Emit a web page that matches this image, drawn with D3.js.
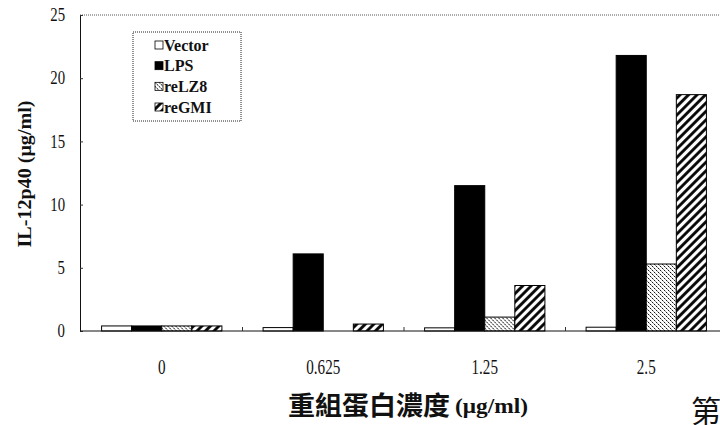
<!DOCTYPE html>
<html>
<head>
<meta charset="utf-8">
<script src="https://cdn.jsdelivr.net/npm/d3@7"></script>
<style>
  html, body { margin: 0; padding: 0; background: #fff; }
  svg { display: block; }
</style>
</head>
<body>
<svg id="chart" width="720" height="425"></svg>
<script>
// ---- data ----
const categories = ["0", "0.625", "1.25", "2.5"];
const seriesNames = ["Vector", "LPS", "reLZ8", "reGMI"];
const vectorValues = [0.4, 0.27, 0.25, 0.3];
const lpsValues = [0.4, 6.1, 11.5, 21.8];
const relz8Values = [0.4, 0, 1.1, 5.3];
const regmiValues = [0.4, 0.55, 3.6, 18.7];
const yTicks = [0, 5, 10, 15, 20, 25];
const yTitle = "IL-12p40 (μg/ml)";
const xTitleCJK = "重組蛋白濃度";
const xTitleUnit = "(μg/ml)";
const cornerText = "第";

const seriesValues = [vectorValues, lpsValues, relz8Values, regmiValues];

const svg = d3.select("#chart");
const defs = svg.append("defs");

// patterns
const dots = defs.append("pattern").attr("id", "pDots")
  .attr("patternUnits", "userSpaceOnUse").attr("width", 4).attr("height", 4);
dots.append("rect").attr("width", 4).attr("height", 4).attr("fill", "#fff");
dots.append("rect").attr("x", 0).attr("y", 0).attr("width", 1).attr("height", 1).attr("fill", "#000");
dots.append("rect").attr("x", 2).attr("y", 2).attr("width", 1).attr("height", 1).attr("fill", "#000");
dots.append("rect").attr("x", 1).attr("y", 1).attr("width", 1).attr("height", 1).attr("fill", "#888");
dots.append("rect").attr("x", 3).attr("y", 3).attr("width", 1).attr("height", 1).attr("fill", "#888");

const hatch = defs.append("pattern").attr("id", "pHatch")
  .attr("patternUnits", "userSpaceOnUse").attr("width", 6).attr("height", 6)
  .attr("patternTransform", "rotate(45)");
hatch.append("rect").attr("width", 6).attr("height", 6).attr("fill", "#fff");
hatch.append("line").attr("x1", 1.5).attr("y1", 0).attr("x2", 1.5).attr("y2", 6)
  .attr("stroke", "#000").attr("stroke-width", 2.8);

const fills = ["#fff", "#000", "url(#pDots)", "url(#pHatch)"];

// scales
const plotLeft = 80, plotTop = 15, plotBottom = 331;
const x0 = d3.scaleBand().domain(categories).range([81, 727])
  .paddingInner(0.255).paddingOuter(0.1275);
const x1 = d3.scaleBand().domain(seriesNames).range([0, x0.bandwidth()]).padding(0);
const y = d3.scaleLinear().domain([0, 25]).range([plotBottom, plotTop]);

const serifFont = "'Liberation Serif', 'DejaVu Serif', serif";
const cjkFont = "'Noto Sans CJK TC', 'Noto Sans CJK SC', sans-serif";

function condense(sel, f) {
  sel.each(function () {
    const w = this.getComputedTextLength();
    d3.select(this).attr("textLength", w * f).attr("lengthAdjust", "spacingAndGlyphs");
  });
}

// top border (dotted)
svg.append("line").attr("x1", plotLeft).attr("x2", 720)
  .attr("y1", plotTop).attr("y2", plotTop)
  .attr("stroke", "#555").attr("stroke-width", 1).attr("stroke-dasharray", "1,1");

// bars
const groups = svg.append("g").selectAll("g").data(categories).join("g")
  .attr("transform", d => `translate(${x0(d)},0)`);
groups.selectAll("rect")
  .data((c, ci) => seriesNames.map((s, si) => ({ s, si, v: seriesValues[si][ci] })))
  .join("rect")
  .filter(d => d.v > 0)
  .attr("x", d => x1(d.s))
  .attr("y", d => y(d.v))
  .attr("width", x1.bandwidth())
  .attr("height", d => y(0) - y(d.v))
  .attr("fill", d => fills[d.si])
  .attr("stroke", "#000")
  .attr("stroke-width", 1);

// y axis
const yAxis = svg.append("g").attr("transform", `translate(${plotLeft},0)`)
  .call(d3.axisLeft(y).tickValues(yTicks).tickSize(-3).tickSizeOuter(0).tickPadding(15));
yAxis.select(".domain").attr("stroke", "#111");
yAxis.selectAll(".tick line").attr("stroke", "#333");
yAxis.selectAll("text").attr("font-family", serifFont).attr("font-size", 18)
  .attr("fill", "#111");
condense(yAxis.selectAll("text"), 0.82);

// x axis
const xAxis = svg.append("g").attr("transform", `translate(0,${plotBottom})`)
  .call(d3.axisBottom(x0).tickSize(0).tickPadding(28));
xAxis.select(".domain").attr("d", `M${plotLeft},0H720`).attr("stroke", "#111");
xAxis.selectAll("text").attr("font-family", serifFont).attr("font-size", 21)
  .attr("fill", "#111");
condense(xAxis.selectAll("text"), 0.72);

// x tick marks at band boundaries
const boundaries = categories.slice(1).map(c => x0(c) - x0.step() * x0.paddingInner() / 2);
svg.append("g").selectAll("line").data(boundaries).join("line")
  .attr("x1", d => d).attr("x2", d => d)
  .attr("y1", plotBottom).attr("y2", plotBottom - 4)
  .attr("stroke", "#333");

// legend
const lg = svg.append("g");
lg.append("rect").attr("x", 133).attr("y", 32).attr("width", 108).attr("height", 89)
  .attr("fill", "#fff").attr("stroke", "#222").attr("stroke-dasharray", "1,1");
const rowY = d3.scalePoint().domain(seriesNames).range([45, 107]);
const items = lg.selectAll("g.item").data(seriesNames).join("g").attr("class", "item")
  .attr("transform", d => `translate(155,${rowY(d)})`);
items.append("rect").attr("x", 0).attr("y", -4).attr("width", 8).attr("height", 8)
  .attr("fill", (d, i) => fills[i]).attr("stroke", "#000").attr("stroke-width", 0.8);
items.append("text").attr("x", 9).attr("y", 5.5)
  .attr("font-family", serifFont).attr("font-weight", "bold").attr("font-size", 16)
  .attr("fill", "#111").text(d => d);

// y title
const yt = svg.append("text")
  .attr("transform", "translate(31,174) rotate(-90)")
  .attr("text-anchor", "middle")
  .attr("font-family", serifFont).attr("font-weight", "bold").attr("font-size", 19)
  .attr("fill", "#111").text(yTitle);
yt.attr("textLength", 147).attr("lengthAdjust", "spacingAndGlyphs");

// x title
svg.append("text").attr("x", 288).attr("y", 415)
  .attr("font-family", cjkFont).attr("font-weight", "bold").attr("font-size", 26)
  .attr("fill", "#111").attr("textLength", 162).attr("lengthAdjust", "spacingAndGlyphs")
  .text(xTitleCJK);
svg.append("text").attr("x", 455).attr("y", 413)
  .attr("font-family", serifFont).attr("font-weight", "bold").attr("font-size", 21)
  .attr("fill", "#111").attr("textLength", 73).attr("lengthAdjust", "spacingAndGlyphs")
  .text(xTitleUnit);

// corner character
svg.append("text").attr("x", 691).attr("y", 422)
  .attr("font-family", cjkFont).attr("font-size", 30).attr("fill", "#111")
  .text(cornerText);
</script>
</body>
</html>
